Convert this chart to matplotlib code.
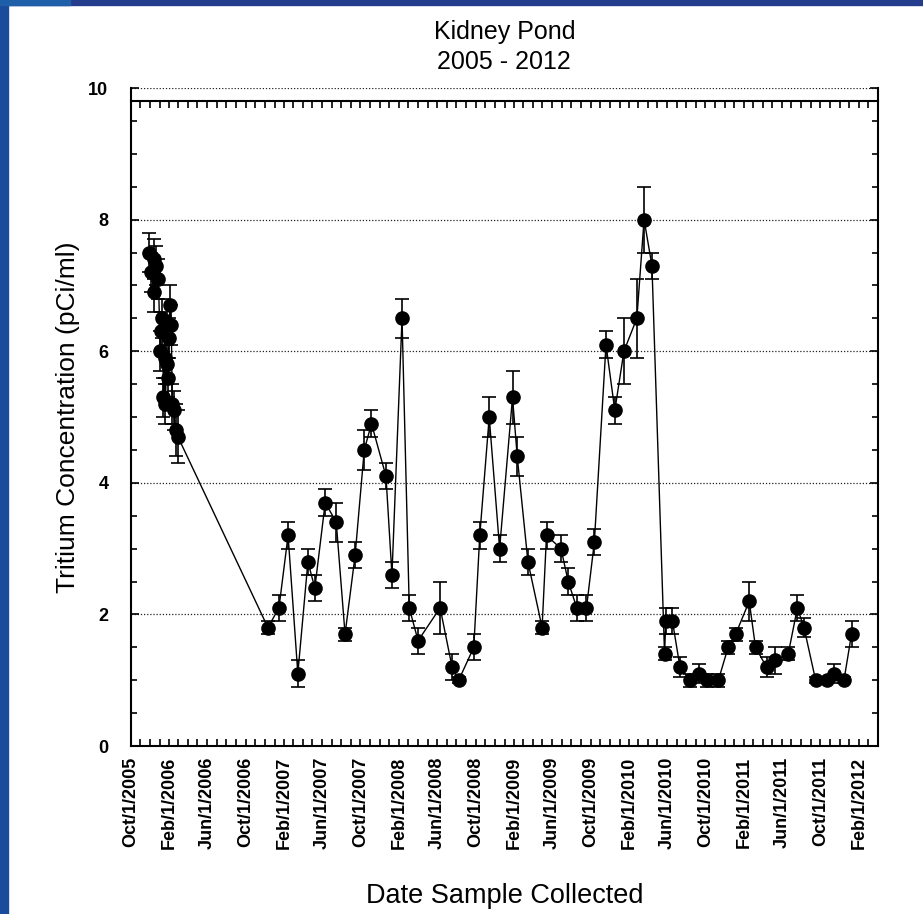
import datetime as dt

import matplotlib
matplotlib.use("Agg")
import matplotlib.pyplot as plt
import matplotlib.dates as mdates
from matplotlib.patches import Rectangle
from matplotlib.ticker import MultipleLocator

plt.rcParams['font.family'] = ['Liberation Sans', 'DejaVu Sans']

# sample dates, tritium (pCi/ml) and counting error
sample_dates = [
    "2005-11-29", "2005-12-06", "2005-12-13", "2005-12-15", "2005-12-21", "2005-12-28",
    "2006-01-03", "2006-01-06", "2006-01-10", "2006-01-13", "2006-01-17", "2006-01-19",
    "2006-01-23", "2006-01-27", "2006-01-31", "2006-02-03", "2006-02-07", "2006-02-10",
    "2006-02-14", "2006-02-21", "2006-02-28",
    "2006-12-11", "2007-01-15", "2007-02-13", "2007-03-16", "2007-04-17", "2007-05-09",
    "2007-06-11", "2007-07-16", "2007-08-13", "2007-09-14", "2007-10-13", "2007-11-05",
    "2007-12-21", "2008-01-09", "2008-02-10", "2008-03-04", "2008-04-01", "2008-06-10",
    "2008-07-18", "2008-08-08", "2008-09-25", "2008-10-14", "2008-11-13", "2008-12-16",
    "2009-01-26", "2009-02-10", "2009-03-16", "2009-04-30", "2009-05-14", "2009-06-29",
    "2009-07-22", "2009-08-18", "2009-09-18", "2009-10-13", "2009-11-19", "2009-12-17",
    "2010-01-15", "2010-02-25", "2010-03-20", "2010-04-14", "2010-05-24", "2010-05-28",
    "2010-06-18", "2010-07-12", "2010-08-13", "2010-09-10", "2010-10-07", "2010-11-11",
    "2010-12-12", "2011-01-05", "2011-02-17", "2011-03-09", "2011-04-13", "2011-05-10",
    "2011-06-21", "2011-07-20", "2011-08-10", "2011-09-16", "2011-10-21", "2011-11-14",
    "2011-12-15", "2012-01-08",
]
tritium = [
    7.5, 7.2, 6.9, 7.4, 7.3, 7.1,
    6.0, 6.3, 6.5, 5.3, 5.9, 5.2,
    5.8, 5.6, 6.2, 6.7, 6.4, 5.2,
    5.1, 4.8, 4.7,
    1.8, 2.1, 3.2, 1.1, 2.8, 2.4,
    3.7, 3.4, 1.7, 2.9, 4.5, 4.9,
    4.1, 2.6, 6.5, 2.1, 1.6, 2.1,
    1.2, 1.0, 1.5, 3.2, 5.0, 3.0,
    5.3, 4.4, 2.8, 1.8, 3.2, 3.0,
    2.5, 2.1, 2.1, 3.1, 6.1, 5.1,
    6.0, 6.5, 8.0, 7.3, 1.4, 1.9,
    1.9, 1.2, 1.0, 1.1, 1.0, 1.0,
    1.5, 1.7, 2.2, 1.5, 1.2, 1.3,
    1.4, 2.1, 1.8, 1.0, 1.0, 1.1,
    1.0, 1.7,
]
error = [
    0.3, 0.3, 0.3, 0.3, 0.3, 0.3,
    0.3, 0.3, 0.3, 0.3, 0.3, 0.3,
    0.3, 0.3, 0.3, 0.3, 0.3, 0.3,
    0.3, 0.4, 0.4,
    0.1, 0.2, 0.2, 0.2, 0.2, 0.2,
    0.2, 0.3, 0.1, 0.2, 0.3, 0.2,
    0.2, 0.2, 0.3, 0.2, 0.2, 0.4,
    0.2, 0.05, 0.2, 0.2, 0.3, 0.2,
    0.4, 0.3, 0.2, 0.1, 0.2, 0.2,
    0.2, 0.2, 0.2, 0.2, 0.2, 0.2,
    0.5, 0.6, 0.5, 0.2, 0.1, 0.2,
    0.2, 0.15, 0.1, 0.15, 0.1, 0.1,
    0.1, 0.1, 0.3, 0.1, 0.15, 0.2,
    0.1, 0.2, 0.15, 0.05, 0.05, 0.15,
    0.05, 0.2,
]

x_start = dt.datetime(2005, 10, 1)
x_end = dt.datetime(2012, 4, 1)

dates = [dt.datetime.strptime(d, "%Y-%m-%d") for d in sample_dates]

fig = plt.figure(figsize=(9.23, 9.14), dpi=100)
ax = fig.add_axes([0.1416, 0.1838, 0.8096, 0.7199])

# slide frame: blue strips on the top and left edge
fig.add_artist(Rectangle((0, 1 - 5 / 914), 1, 5 / 914, transform=fig.transFigure,
                         color='#253d8d', zorder=10))
fig.add_artist(Rectangle((0, 1 - 5 / 914), 70 / 923, 5 / 914, transform=fig.transFigure,
                         color='#1f5ea9', zorder=11))
fig.add_artist(Rectangle((0, 0), 8 / 923, 1, transform=fig.transFigure,
                         color='#1b4c9c', zorder=10))

ax.errorbar(dates, tritium, yerr=error, fmt='o', color='black', markersize=9.5,
            elinewidth=1.2, capsize=5, capthick=1.2, zorder=3)
ax.plot(dates, tritium, color='black', linewidth=1.0, zorder=2)

ax.set_xlim(x_start, x_end)
ax.set_ylim(0, 10)

for level in [2, 4, 6, 8, 10]:
    ax.axhline(level, color='#222222', linestyle=(0, (1, 1.5)), linewidth=0.9, zorder=1)

ax.spines['top'].set_position(('data', 9.8))
for side in ['left', 'right', 'bottom', 'top']:
    ax.spines[side].set_linewidth(1.5)

ax.xaxis.set_major_locator(mdates.MonthLocator(bymonth=(2, 6, 10)))
ax.xaxis.set_minor_locator(mdates.MonthLocator())
ax.xaxis.set_major_formatter(mdates.DateFormatter('%b/1/%Y'))
ax.yaxis.set_major_locator(MultipleLocator(2))
ax.yaxis.set_minor_locator(MultipleLocator(0.5))

ax.tick_params(axis='x', which='both', direction='in', top=True, bottom=True,
               length=5, width=1.2, pad=8)
ax.tick_params(axis='y', which='major', direction='in', left=True, right=True,
               length=6, width=1.2, pad=16)
ax.tick_params(axis='y', which='minor', direction='in', left=True, right=True,
               length=4, width=1.2)

for lab in ax.get_xticklabels():
    lab.set_rotation(90)
    lab.set_fontweight('bold')
    lab.set_fontsize(13)
for lab in ax.get_yticklabels():
    lab.set_fontweight('bold')
    lab.set_fontsize(13)

ax.set_title("Kidney Pond\n2005 - 2012", fontsize=18, pad=14, linespacing=1.3)
ax.set_xlabel("Date Sample Collected", fontsize=19.5, labelpad=24)
ax.set_ylabel("Tritium Concentration (pCi/ml)", fontsize=19, labelpad=6)

plt.savefig("out.png", dpi=100)
